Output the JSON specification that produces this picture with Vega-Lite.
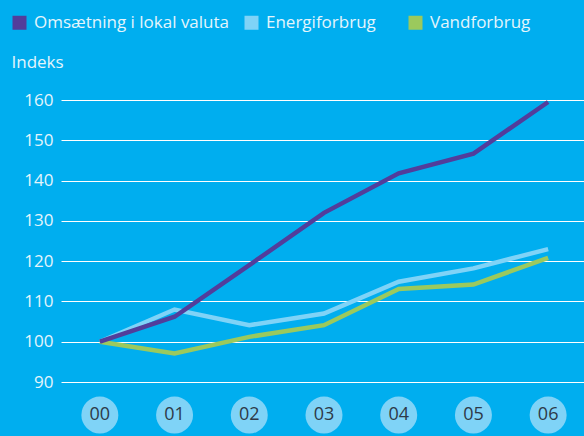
{
  "$schema": "https://vega.github.io/schema/vega-lite/v6.json",
  "width": 523,
  "height": 282,
  "autosize": {"type": "none"},
  "padding": {"left": 61, "top": 100, "right": 0, "bottom": 54},
  "background": "#00AEEF",
  "config": {
    "view": {"stroke": null},
    "font": "Open Sans"
  },
  "datasets": {
    "lines": [
      {"year": "00", "series": "Energiforbrug", "value": 100},
      {"year": "01", "series": "Energiforbrug", "value": 108},
      {"year": "02", "series": "Energiforbrug", "value": 104.1},
      {"year": "03", "series": "Energiforbrug", "value": 107},
      {"year": "04", "series": "Energiforbrug", "value": 114.9},
      {"year": "05", "series": "Energiforbrug", "value": 118.2},
      {"year": "06", "series": "Energiforbrug", "value": 123},
      {"year": "00", "series": "Vandforbrug", "value": 100},
      {"year": "01", "series": "Vandforbrug", "value": 97.1},
      {"year": "02", "series": "Vandforbrug", "value": 101.2},
      {"year": "03", "series": "Vandforbrug", "value": 104.1},
      {"year": "04", "series": "Vandforbrug", "value": 113.1},
      {"year": "05", "series": "Vandforbrug", "value": 114.2},
      {"year": "06", "series": "Vandforbrug", "value": 120.8},
      {"year": "00", "series": "Omsætning i lokal valuta", "value": 100},
      {"year": "01", "series": "Omsætning i lokal valuta", "value": 106.2},
      {"year": "02", "series": "Omsætning i lokal valuta", "value": 119},
      {"year": "03", "series": "Omsætning i lokal valuta", "value": 132},
      {"year": "04", "series": "Omsætning i lokal valuta", "value": 141.8},
      {"year": "05", "series": "Omsætning i lokal valuta", "value": 146.7},
      {"year": "06", "series": "Omsætning i lokal valuta", "value": 159.5}
    ],
    "years": [
      {"year": "00", "pos": 81.8},
      {"year": "01", "pos": 81.8},
      {"year": "02", "pos": 81.8},
      {"year": "03", "pos": 81.8},
      {"year": "04", "pos": 81.8},
      {"year": "05", "pos": 81.8},
      {"year": "06", "pos": 81.8}
    ]
  },
  "layer": [
    {
      "data": {"name": "lines"},
      "mark": {"type": "line", "strokeWidth": 4.5, "clip": false},
      "encoding": {
        "x": {
          "field": "year", "type": "ordinal",
          "scale": {"type": "point", "paddingOuter": 0.502, "align": 0.52},
          "axis": null
        },
        "y": {
          "field": "value", "type": "quantitative",
          "scale": {"domain": [90, 160], "nice": false, "zero": false},
          "axis": {
            "values": [90, 100, 110, 120, 130, 140, 150, 160],
            "domain": false, "ticks": false,
            "labelPadding": 8, "labelFontSize": 17, "labelColor": "#E4F5FC",
            "labelFont": "Open Sans",
            "grid": true, "gridColor": "#FFFFFF", "gridWidth": 1, "gridOpacity": 1,
            "title": "Indeks", "titleAngle": 0, "titleX": -50, "titleY": -38,
            "titleAlign": "left", "titleBaseline": "middle",
            "titleFontSize": 17, "titleFontWeight": "normal", "titleColor": "#E4F5FC",
            "titleFont": "Open Sans"
          }
        },
        "color": {
          "field": "series", "type": "nominal",
          "scale": {
            "domain": ["Omsætning i lokal valuta", "Energiforbrug", "Vandforbrug"],
            "range": ["#523D9B", "#7FD3F7", "#9BC95D"]
          },
          "legend": {
            "orient": "none", "direction": "horizontal",
            "legendX": -50, "legendY": -86,
            "title": null,
            "symbolType": "square", "symbolSize": 196,
            "labelFontSize": 17, "labelColor": "#E4F5FC", "labelFont": "Open Sans",
            "labelOffset": 6, "columnPadding": 13, "labelLimit": 400,
            "labelExpr": "datum.label == 'Energiforbrug' ? 'Energiforbrug\u00a0\u00a0\u00a0\u00a0\u200b' : datum.label",
            "encode": {
              "symbols": {
                "update": {
                  "fill": {"scale": "color", "field": "value"},
                  "strokeWidth": {"value": 0}
                }
              }
            }
          }
        }
      }
    },
    {
      "data": {"name": "years"},
      "mark": {"type": "point", "shape": "circle", "filled": true, "size": 1369, "color": "#7FD3F7", "opacity": 1, "clip": false},
      "encoding": {
        "x": {"field": "year", "type": "ordinal"},
        "y": {"field": "pos", "type": "quantitative"}
      }
    },
    {
      "data": {"name": "years"},
      "mark": {"type": "text", "fontSize": 18, "font": "Open Sans", "color": "#2E3A48", "baseline": "middle", "align": "center", "clip": false},
      "encoding": {
        "x": {"field": "year", "type": "ordinal"},
        "y": {"field": "pos", "type": "quantitative"},
        "text": {"field": "year"}
      }
    }
  ]
}
